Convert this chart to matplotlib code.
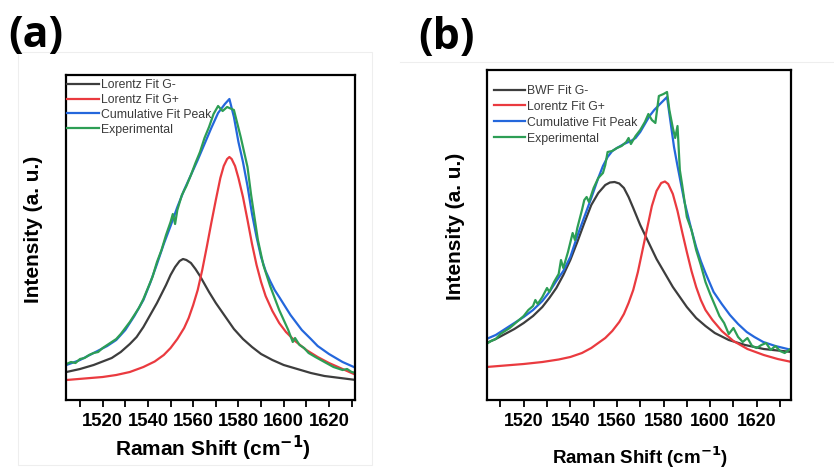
import matplotlib.pyplot as plt
from matplotlib.lines import Line2D
from matplotlib.ticker import MultipleLocator

plt.rcParams['font.family'] = ['Liberation Sans', 'DejaVu Sans']

# ---- panel (a): Lorentz G- / Lorentz G+ fits ----
a_gm_x = [1504, 1510, 1516, 1520, 1524, 1528, 1532, 1535, 1538, 1541, 1544, 1546, 1548,
          1550, 1552, 1554, 1555.5, 1557, 1559, 1561, 1563, 1565, 1567, 1570, 1574, 1578,
          1582, 1586, 1590, 1595, 1600, 1606, 1612, 1618, 1625, 1632]
a_gm_y = [28, 31, 35, 38.5, 42, 48, 56, 63, 73, 85, 97, 106, 115,
          125, 133, 139, 141, 140, 137, 131, 124, 116, 108, 97, 84, 71,
          61, 53, 46, 40, 35, 31, 27, 24, 22, 20]

a_gp_x = [1504, 1512, 1520, 1526, 1532, 1538, 1543, 1547, 1550, 1553, 1556, 1558, 1560,
          1562, 1564, 1566, 1568, 1570, 1572, 1573.5, 1575, 1576, 1577, 1578.5, 1580, 1582,
          1584, 1586, 1588, 1590, 1592, 1595, 1598, 1601, 1605, 1610, 1615, 1620, 1626,
          1632]
a_gp_y = [20, 21.5, 23, 25, 28, 33, 38.5, 45, 52, 61, 72, 82, 95,
          110, 130, 153, 177, 200, 222, 234, 241, 243, 241, 234, 222, 203,
          180, 156, 135, 118, 104, 89, 77, 68, 59, 50, 43, 37, 31,
          25]

a_cum_x = [1504, 1510, 1516, 1522, 1526, 1530, 1534, 1538, 1541, 1544, 1547, 1550, 1553,
           1556, 1559, 1562, 1565, 1568, 1571, 1574, 1576, 1578, 1580, 1582, 1584, 1586,
           1588, 1590, 1592, 1594, 1596, 1598, 1603, 1608, 1612, 1615, 1620, 1626, 1632]
a_cum_y = [35, 40, 47, 54, 60, 70, 84, 100, 117, 136, 156, 174, 193,
           210, 225, 240, 256, 272, 287, 296, 301, 283, 258, 238, 214, 186,
           163, 143, 129, 119, 110, 103, 85, 70, 61, 54, 46, 38, 32]

a_exp_x = [1504, 1506, 1508, 1510, 1512, 1514, 1516, 1518, 1520, 1522, 1524, 1526, 1528,
           1530, 1532, 1534, 1536, 1538, 1540, 1542, 1544, 1546, 1548, 1550, 1551, 1552,
           1553, 1555, 1557, 1559, 1561, 1563, 1565, 1567, 1569, 1571, 1573, 1575, 1578,
           1581, 1584, 1585.6, 1588.6, 1591, 1594, 1598, 1600, 1602, 1604, 1605, 1607,
           1609, 1611, 1614, 1618, 1622, 1626, 1628, 1630, 1632]
a_exp_y = [36, 38, 37, 41, 42, 45, 47, 48, 52, 55, 58, 61, 66,
           72, 78, 85, 92, 101, 112, 123, 138, 150, 165, 178, 186, 176,
           190, 205, 214, 225, 237, 248, 262, 273, 286, 294, 289, 293, 290,
           263, 233, 205, 160, 135, 114, 90, 80, 70, 58, 62, 55,
           52, 47, 43, 38, 33, 30, 31, 28, 27]

# ---- panel (b): BWF G- / Lorentz G+ fits ----
b_gm_x = [1504, 1508, 1512, 1516, 1520, 1524, 1528, 1531, 1534, 1537, 1540, 1543, 1546,
          1549, 1552, 1555, 1557, 1559, 1561, 1563, 1565, 1567, 1570, 1573.5, 1577, 1581,
          1584, 1587, 1590, 1594, 1598, 1602, 1608, 1615, 1623, 1635]
b_gm_y = [57, 61, 66, 71, 77, 84, 93, 102, 112, 125, 140, 158, 177,
          195, 207, 215, 217.5, 218, 216.5, 212, 203, 192, 175, 158, 141, 125,
          113, 103, 93, 82, 74, 67, 60, 55, 51, 48]

b_gp_x = [1504, 1512, 1520, 1528, 1535, 1540, 1545, 1549, 1552, 1555, 1558, 1561, 1563,
          1565, 1567, 1569, 1571, 1573, 1575, 1577, 1579, 1580.6, 1582, 1584, 1586, 1588,
          1590, 1592, 1594, 1596, 1598, 1601, 1605, 1610, 1616, 1623, 1629, 1635]
b_gp_y = [33, 34.5, 36, 38, 40.5, 43, 47, 52, 57, 62, 69, 78, 86,
          97, 110, 128, 150, 172, 194, 209, 217, 218.5, 216, 206, 189, 168,
          148, 129, 113, 100, 90, 80, 69, 59, 51, 45, 41, 38]

b_cum_x = [1504, 1508, 1512, 1516, 1520, 1524, 1528, 1531, 1534, 1537, 1540, 1543, 1546,
           1549, 1552, 1554, 1556, 1558, 1560, 1563, 1566, 1568, 1570, 1572, 1574, 1576,
           1578.5, 1581.5, 1583, 1584.5, 1586, 1587.5, 1589, 1590.5, 1592, 1594, 1596,
           1598, 1601.5, 1605, 1608.5, 1612, 1615.7, 1619, 1622.8, 1628, 1635]
b_cum_y = [61, 65, 71, 77, 83, 90, 99, 108, 119, 129, 143, 164, 183,
           202, 222, 234, 243, 249, 252, 256, 259, 262, 268, 276, 284, 290,
           296, 303, 278, 253, 234, 216, 198, 184, 170, 153, 139,
           127, 108, 96, 85, 76, 68, 63, 58, 54, 50]

b_exp_x = [1504, 1506, 1508, 1510, 1512, 1514, 1516, 1518, 1520, 1522, 1524, 1525, 1526,
           1528, 1530, 1531, 1533, 1535, 1536, 1537, 1539, 1541, 1542, 1543, 1545, 1546,
           1547, 1548, 1550, 1552, 1554, 1555, 1556, 1558, 1560, 1562, 1564, 1565, 1566,
           1568, 1570, 1572, 1573.5, 1575, 1576.5, 1578, 1580, 1581.5, 1582.5, 1584, 1585,
           1586, 1587, 1588, 1590, 1592, 1594, 1596, 1598, 1600, 1602, 1604, 1606, 1608,
           1610, 1612, 1614, 1616, 1618, 1620, 1622, 1624, 1626, 1628, 1630, 1632, 1635]
b_exp_y = [56, 59, 61, 66, 69, 72, 76, 80, 84, 90, 94, 100, 96,
           103, 112, 108, 118, 126, 140, 132, 148, 167, 160, 172, 190, 200,
           203, 198, 212, 222, 227, 235, 248, 249, 252, 254, 258, 262, 256,
           264, 270, 278, 286, 280, 277, 304, 306, 308, 290, 272, 262,
           274, 230, 215, 183, 170, 150, 135, 118, 106, 95, 84, 77, 66,
           72, 63, 58, 62, 54, 52, 55, 57, 50, 54, 49, 47, 52]

a_labels = ['Lorentz Fit G-', 'Lorentz Fit G+', 'Cumulative Fit Peak', 'Experimental']
b_labels = ['BWF Fit G-', 'Lorentz Fit G+', 'Cumulative Fit Peak', 'Experimental']

GRAY = '#3d3d3d'
RED = '#ea3a3f'
BLUE = '#2467dc'
GREEN = '#2d9e55'


def style_axes(ax, xlim, ylim, tick_size):
    ax.set_xlim(*xlim)
    ax.set_ylim(*ylim)
    ax.set_yticks([])
    ax.xaxis.set_major_locator(MultipleLocator(20))
    ax.xaxis.set_minor_locator(MultipleLocator(10))
    ax.tick_params(axis='x', which='both', direction='out', length=5, width=1.3,
                   top=False, labelsize=tick_size, pad=4)
    for lbl in ax.get_xticklabels():
        lbl.set_fontweight('bold')
    for sp in ax.spines.values():
        sp.set_linewidth(1.6)


def add_legend(ax, labels, anchor, spacing):
    handles = [Line2D([], [], color=c, lw=1.6) for c in (GRAY, RED, BLUE, GREEN)]
    leg = ax.legend(handles, labels, loc='upper left', bbox_to_anchor=anchor,
                    frameon=False, fontsize=8.8, handlelength=2.6, handletextpad=0.15,
                    labelspacing=spacing, borderpad=0, borderaxespad=0)
    for t in leg.get_texts():
        t.set_color('#3a3a3a')


def draw(ax, series):
    for (xs, ys), c in zip(series, (GRAY, RED, BLUE, GREEN)):
        ax.plot(xs, ys, color=c, lw=1.6, solid_joinstyle='round')


fig = plt.figure(figsize=(8.34, 4.68), dpi=100)

# faint frames around each sub-figure
fig.add_artist(plt.Rectangle((18 / 834, 1 - 465 / 468), 354 / 834, 413 / 468,
                             transform=fig.transFigure, fill=False, ec='#eeeeee', lw=0.8))
fig.add_artist(Line2D([400 / 834, 1], [1 - 62 / 468, 1 - 62 / 468],
                      transform=fig.transFigure, color='#eeeeee', lw=0.8))

ax1 = fig.add_axes([66 / 834, 68 / 468, 289 / 834, 325 / 468])
draw(ax1, [(a_gm_x, a_gm_y), (a_gp_x, a_gp_y), (a_cum_x, a_cum_y), (a_exp_x, a_exp_y)])
style_axes(ax1, (1503.8, 1631.5), (0, 325), 13.3)
add_legend(ax1, a_labels, (0.005, 0.988), 0.24)
ax1.set_xlabel('Raman Shift (cm$^{\\mathbf{-1}}$)', fontsize=15, fontweight='bold')
ax1.xaxis.set_label_coords(0.507, -0.148)
ax1.xaxis.label.set_va('center')
ax1.set_ylabel('Intensity (a. u.)', fontsize=15, fontweight='bold')
ax1.yaxis.set_label_coords(-0.114, 0.526)
ax1.yaxis.label.set_va('center')

ax2 = fig.add_axes([487 / 834, 68 / 468, 304 / 834, 330 / 468])
draw(ax2, [(b_gm_x, b_gm_y), (b_gp_x, b_gp_y), (b_cum_x, b_cum_y), (b_exp_x, b_exp_y)])
style_axes(ax2, (1504.25, 1634.7), (0, 330), 12.8)
add_legend(ax2, b_labels, (0.022, 0.955), 0.32)
ax2.set_xlabel('Raman Shift (cm$^{\\mathbf{-1}}$)', fontsize=13.5, fontweight='bold')
ax2.xaxis.set_label_coords(0.503, -0.172)
ax2.xaxis.label.set_va('center')
ax2.set_ylabel('Intensity (a. u.)', fontsize=15, fontweight='bold')
ax2.yaxis.set_label_coords(-0.102, 0.527)
ax2.yaxis.label.set_va('center')

fig.text(36 / 834, 1 - 35 / 468, '(a)', fontsize=31, fontweight='bold',
         family=['Open Sans', 'DejaVu Sans'], ha='center', va='center')
fig.text(447 / 834, 1 - 38 / 468, '(b)', fontsize=31, fontweight='bold',
         family=['Open Sans', 'DejaVu Sans'], ha='center', va='center')

fig.savefig('out.png', dpi=100)
